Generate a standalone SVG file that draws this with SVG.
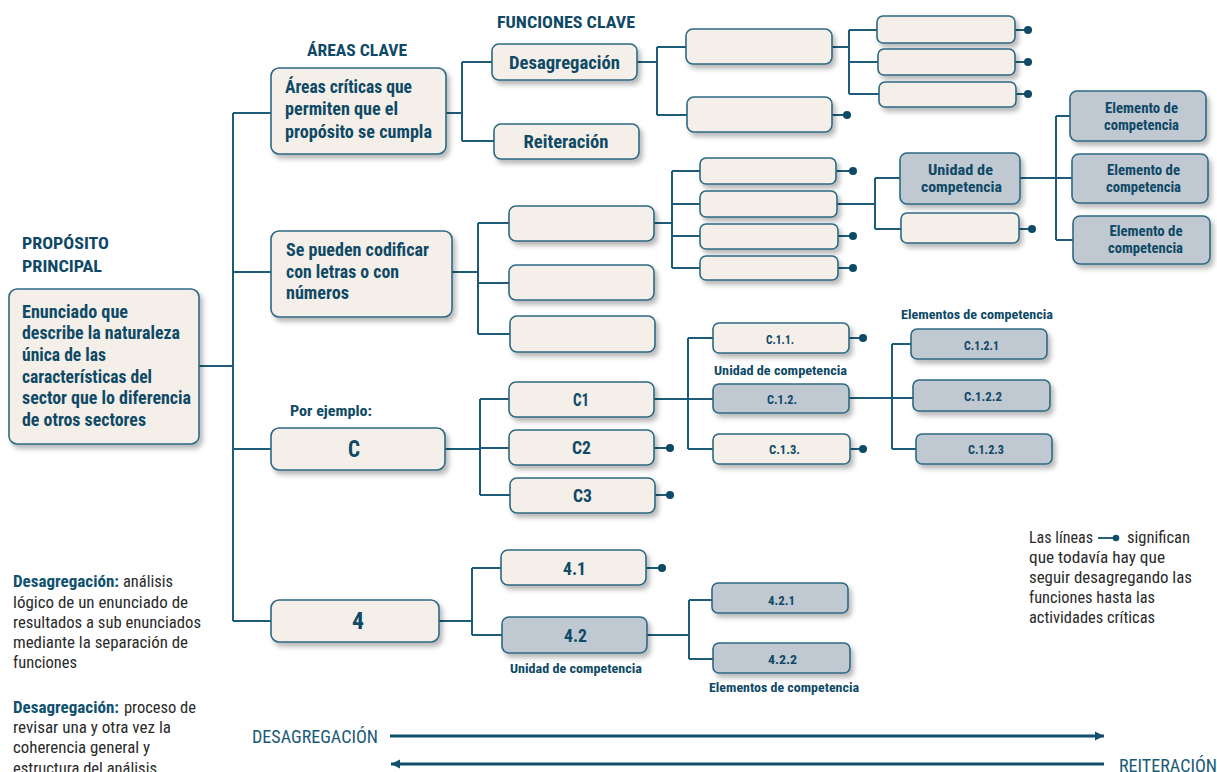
<svg xmlns="http://www.w3.org/2000/svg" width="1217" height="772" viewBox="0 0 1217 772">
<style>
text{font-family:"Liberation Sans Narrow","Roboto Condensed","DejaVu Sans Condensed","Liberation Sans",sans-serif;font-stretch:condensed}
.b{font-weight:bold;fill:#0e4966}
.t17{font-size:17px}
.t18{font-size:18.5px}
.tb{font-size:18px}
.t15{font-size:15.5px}
.t14{font-size:14.5px}
.t13{font-size:13.5px}
.t12{font-size:13px}
.mid{text-anchor:middle}
.n{font-size:16.5px;fill:#2a2a2a}
.nb{font-size:16.5px;font-weight:bold;fill:#0f5270}
.box{fill:#f5efe9;stroke:#2d6983;stroke-width:1.6;filter:url(#sh)}
.gbox{fill:#c0c8d2;stroke:#2d6983;stroke-width:1.6;filter:url(#sh)}
.ln{fill:none;stroke:#1d5c78;stroke-width:2}
.dot{fill:#0d4a66}
.arr{fill:none;stroke:#0f4f6c;stroke-width:3}
</style>
<defs>
<filter id="sh" x="-10%" y="-20%" width="130%" height="170%">
<feDropShadow dx="3" dy="4" stdDeviation="2.5" flood-color="#000" flood-opacity="0.28"/>
</filter>
<marker id="ah" viewBox="0 0 10 10" refX="10" refY="5" markerWidth="3" markerHeight="3.2" orient="auto" markerUnits="strokeWidth">
<path d="M0,0 L10,5 L0,10 z" fill="#0f4f6c"/>
</marker>
</defs>

<!-- headings -->
<g id="headings">
<text class="b t17 mid" x="357" y="56" textLength="100" lengthAdjust="spacingAndGlyphs">ÁREAS CLAVE</text>
<text class="b t17 mid" x="566" y="28" textLength="138" lengthAdjust="spacingAndGlyphs">FUNCIONES CLAVE</text>
<text class="b t17" x="22" y="249" textLength="87" lengthAdjust="spacingAndGlyphs">PROPÓSITO</text>
<text class="b t17" x="22" y="272" textLength="80" lengthAdjust="spacingAndGlyphs">PRINCIPAL</text>
<text class="b t15" x="290" y="416" textLength="82" lengthAdjust="spacingAndGlyphs">Por ejemplo:</text>
</g>

<!-- connectors -->
<g id="connectors">
<path class="ln" d="M199,366H233M233,113V621M233,113H271M233,272H271M233,449H271M233,621H271"/>
<path class="ln" d="M446,113H462M462,62V141M462,62H492M462,141H494"/>
<path class="ln" d="M637,62H657M657,47V115M657,47H686M657,115H687"/>
<path class="ln" d="M832,115H847"/>
<path class="ln" d="M832,47H849M849,30V94M849,30H877M849,62H878M849,94H879"/>
<path class="ln" d="M1015,30H1028M1015,62H1028M1016,94H1028"/>
<path class="ln" d="M452,272H478M478,223V334M478,223H509M478,283H509M478,334H510"/>
<path class="ln" d="M654,223H672M672,171V268M672,171H700M672,204H700M672,236H700M672,268H700"/>
<path class="ln" d="M836,171H853M838,236H853M838,268H853"/>
<path class="ln" d="M837,204H875M875,178V229M875,178H900M875,229H901"/>
<path class="ln" d="M1019,229H1032"/>
<path class="ln" d="M1020,178H1056M1056,116V240M1056,116H1070M1056,178H1072M1056,240H1073"/>
<path class="ln" d="M445,449H480M480,399V495M480,399H509M480,448H509M480,495H510"/>
<path class="ln" d="M654,448H670M655,495H670"/>
<path class="ln" d="M654,399H713M688,338V449M688,338H713M688,449H713"/>
<path class="ln" d="M849,338H863M850,449H863"/>
<path class="ln" d="M849,398H913M892,344V449M892,344H911M892,449H916"/>
<path class="ln" d="M439,621H472M472,568V635M472,568H501M472,635H502"/>
<path class="ln" d="M646,568H662"/>
<path class="ln" d="M647,635H689M689,600V659M689,600H712M689,659H713"/>
<g class="dot">
<circle cx="847" cy="115" r="4"/>
<circle cx="1028" cy="30" r="4"/>
<circle cx="1028" cy="62" r="4"/>
<circle cx="1028" cy="94" r="4"/>
<circle cx="853" cy="171" r="4"/>
<circle cx="853" cy="236" r="4"/>
<circle cx="853" cy="268" r="4"/>
<circle cx="1032" cy="229" r="4"/>
<circle cx="670" cy="448" r="4"/>
<circle cx="670" cy="495" r="4"/>
<circle cx="863" cy="338" r="4"/>
<circle cx="863" cy="449" r="4"/>
<circle cx="662" cy="568" r="4"/>
</g>
</g>

<!-- nodes -->
<g id="n-main">
<rect class="box" x="9" y="289" width="190" height="155" rx="8"/>
<text class="b tb" x="22" y="318" textLength="106" lengthAdjust="spacingAndGlyphs">Enunciado que</text>
<text class="b tb" x="22" y="339" textLength="158" lengthAdjust="spacingAndGlyphs">describe la naturaleza</text>
<text class="b tb" x="22" y="361" textLength="84" lengthAdjust="spacingAndGlyphs">única de las</text>
<text class="b tb" x="22" y="383" textLength="130" lengthAdjust="spacingAndGlyphs">características del</text>
<text class="b tb" x="22" y="404" textLength="169" lengthAdjust="spacingAndGlyphs">sector que lo diferencia</text>
<text class="b tb" x="22" y="426" textLength="124" lengthAdjust="spacingAndGlyphs">de otros sectores</text>
</g>
<g id="n-area1">
<rect class="box" x="271" y="68" width="175" height="86" rx="8"/>
<text class="b tb" x="285" y="93" textLength="127" lengthAdjust="spacingAndGlyphs">Áreas críticas que</text>
<text class="b tb" x="285" y="115" textLength="113" lengthAdjust="spacingAndGlyphs">permiten que el</text>
<text class="b tb" x="285" y="138" textLength="147" lengthAdjust="spacingAndGlyphs">propósito se cumpla</text>
</g>
<g id="n-area2">
<rect class="box" x="271" y="231" width="181" height="86" rx="8"/>
<text class="b tb" x="286" y="256" textLength="143" lengthAdjust="spacingAndGlyphs">Se pueden codificar</text>
<text class="b tb" x="286" y="278" textLength="113" lengthAdjust="spacingAndGlyphs">con letras o con</text>
<text class="b tb" x="286" y="299" textLength="63" lengthAdjust="spacingAndGlyphs">números</text>
</g>
<g id="n-c">
<rect class="box" x="271" y="428" width="174" height="42" rx="8"/>
<text class="b mid" style="font-size:24px" x="354" y="457" textLength="12" lengthAdjust="spacingAndGlyphs">C</text>
</g>
<g id="n-4">
<rect class="box" x="271" y="600" width="168" height="42" rx="8"/>
<text class="b mid" style="font-size:24px" x="358" y="629" textLength="12" lengthAdjust="spacingAndGlyphs">4</text>
</g>
<g id="n-desag">
<rect class="box" x="492" y="44" width="145" height="36" rx="7"/>
<text class="b t18 mid" x="564.5" y="69" textLength="111" lengthAdjust="spacingAndGlyphs">Desagregación</text>
</g>
<g id="n-reit">
<rect class="box" x="494" y="124" width="145" height="35" rx="7"/>
<text class="b t18 mid" x="566" y="148" textLength="85" lengthAdjust="spacingAndGlyphs">Reiteración</text>
</g>
<g id="n-d1"><rect class="box" x="686" y="29" width="146" height="35" rx="7"/></g>
<g id="n-d2"><rect class="box" x="687" y="97" width="145" height="35" rx="7"/></g>
<g id="n-e1"><rect class="box" x="877" y="16" width="138" height="27" rx="6"/></g>
<g id="n-e2"><rect class="box" x="878" y="49" width="137" height="26" rx="6"/></g>
<g id="n-e3"><rect class="box" x="879" y="82" width="137" height="25" rx="6"/></g>
<g id="n-f1"><rect class="box" x="509" y="206" width="145" height="35" rx="7"/></g>
<g id="n-f2"><rect class="box" x="509" y="265" width="145" height="35" rx="7"/></g>
<g id="n-f3"><rect class="box" x="510" y="316" width="145" height="36" rx="7"/></g>
<g id="n-g1"><rect class="box" x="700" y="158" width="136" height="26" rx="6"/></g>
<g id="n-g2"><rect class="box" x="700" y="191" width="137" height="26" rx="6"/></g>
<g id="n-g3"><rect class="box" x="700" y="224" width="138" height="25" rx="6"/></g>
<g id="n-g4"><rect class="box" x="700" y="256" width="138" height="24" rx="6"/></g>
<g id="n-unidad">
<rect class="gbox" x="900" y="153" width="120" height="51" rx="7"/>
<text class="b t15 mid" x="960.5" y="175" textLength="65" lengthAdjust="spacingAndGlyphs">Unidad de</text>
<text class="b t15 mid" x="961.5" y="192" textLength="81" lengthAdjust="spacingAndGlyphs">competencia</text>
</g>
<g id="n-h2"><rect class="box" x="901" y="213" width="118" height="30" rx="6"/></g>
<g id="n-el1">
<rect class="gbox" x="1070" y="91" width="136" height="50" rx="7"/>
<text class="b t14 mid" x="1141.5" y="113" textLength="73" lengthAdjust="spacingAndGlyphs">Elemento de</text>
<text class="b t14 mid" x="1141.5" y="130" textLength="75" lengthAdjust="spacingAndGlyphs">competencia</text>
</g>
<g id="n-el2">
<rect class="gbox" x="1072" y="154" width="136" height="49" rx="7"/>
<text class="b t14 mid" x="1143.5" y="175" textLength="73" lengthAdjust="spacingAndGlyphs">Elemento de</text>
<text class="b t14 mid" x="1143.5" y="192" textLength="75" lengthAdjust="spacingAndGlyphs">competencia</text>
</g>
<g id="n-el3">
<rect class="gbox" x="1073" y="216" width="137" height="48" rx="7"/>
<text class="b t14 mid" x="1146" y="236" textLength="73" lengthAdjust="spacingAndGlyphs">Elemento de</text>
<text class="b t14 mid" x="1145.5" y="253" textLength="75" lengthAdjust="spacingAndGlyphs">competencia</text>
</g>
<g id="n-c1">
<rect class="box" x="509" y="382" width="145" height="35" rx="7"/>
<text class="b t18 mid" x="581" y="406" textLength="16" lengthAdjust="spacingAndGlyphs">C1</text>
</g>
<g id="n-c2">
<rect class="box" x="509" y="430" width="145" height="35" rx="7"/>
<text class="b t18 mid" x="581.5" y="454" textLength="19" lengthAdjust="spacingAndGlyphs">C2</text>
</g>
<g id="n-c3">
<rect class="box" x="510" y="478" width="145" height="35" rx="7"/>
<text class="b t18 mid" x="582.5" y="502" textLength="19" lengthAdjust="spacingAndGlyphs">C3</text>
</g>
<g id="n-c11">
<rect class="box" x="713" y="323" width="136" height="30" rx="6"/>
<text class="b t13 mid" x="780" y="344" textLength="28" lengthAdjust="spacingAndGlyphs">C.1.1.</text>
</g>
<g id="n-c12">
<rect class="gbox" x="713" y="384" width="136" height="29" rx="6"/>
<text class="b t13 mid" x="782" y="404" textLength="30" lengthAdjust="spacingAndGlyphs">C.1.2.</text>
</g>
<g id="n-c13">
<rect class="box" x="713" y="434" width="137" height="30" rx="6"/>
<text class="b t13 mid" x="784.5" y="454" textLength="31" lengthAdjust="spacingAndGlyphs">C.1.3.</text>
</g>
<g id="n-c121">
<rect class="gbox" x="911" y="329" width="136" height="30" rx="6"/>
<text class="b t13 mid" x="981.5" y="350" textLength="35" lengthAdjust="spacingAndGlyphs">C.1.2.1</text>
</g>
<g id="n-c122">
<rect class="gbox" x="913" y="380" width="137" height="31" rx="6"/>
<text class="b t13 mid" x="983" y="401" textLength="38" lengthAdjust="spacingAndGlyphs">C.1.2.2</text>
</g>
<g id="n-c123">
<rect class="gbox" x="916" y="434" width="136" height="30" rx="6"/>
<text class="b t13 mid" x="986" y="454" textLength="36" lengthAdjust="spacingAndGlyphs">C.1.2.3</text>
</g>
<g id="n-41">
<rect class="box" x="501" y="550" width="145" height="35" rx="7"/>
<text class="b t18 mid" x="574.5" y="575" textLength="23" lengthAdjust="spacingAndGlyphs">4.1</text>
</g>
<g id="n-42">
<rect class="gbox" x="502" y="617" width="145" height="36" rx="7"/>
<text class="b t18 mid" x="575.5" y="642" textLength="23" lengthAdjust="spacingAndGlyphs">4.2</text>
</g>
<g id="n-421">
<rect class="gbox" x="712" y="583" width="136" height="30" rx="6"/>
<text class="b t13 mid" x="781.5" y="605" textLength="27" lengthAdjust="spacingAndGlyphs">4.2.1</text>
</g>
<g id="n-422">
<rect class="gbox" x="713" y="643" width="137" height="30" rx="6"/>
<text class="b t13 mid" x="782.5" y="664" textLength="29" lengthAdjust="spacingAndGlyphs">4.2.2</text>
</g>

<!-- small labels -->
<g id="labels">
<text class="b t12 mid" x="780.5" y="375" textLength="133" lengthAdjust="spacingAndGlyphs">Unidad de competencia</text>
<text class="b t12 mid" x="977" y="319" textLength="152" lengthAdjust="spacingAndGlyphs">Elementos de competencia</text>
<text class="b t12 mid" x="576" y="673" textLength="132" lengthAdjust="spacingAndGlyphs">Unidad de competencia</text>
<text class="b t12 mid" x="784" y="692" textLength="150" lengthAdjust="spacingAndGlyphs">Elementos de competencia</text>
</g>

<!-- notes -->
<g id="note-left">
<text class="nb" x="13" y="587" textLength="106" lengthAdjust="spacingAndGlyphs">Desagregación:</text>
<text class="n" x="123" y="587" textLength="50" lengthAdjust="spacingAndGlyphs">análisis</text>
<text class="n" x="13" y="608" textLength="175" lengthAdjust="spacingAndGlyphs">lógico de un enunciado de</text>
<text class="n" x="13" y="628" textLength="188" lengthAdjust="spacingAndGlyphs">resultados a sub enunciados</text>
<text class="n" x="13" y="648" textLength="175" lengthAdjust="spacingAndGlyphs">mediante la separación de</text>
<text class="n" x="13" y="668" textLength="64" lengthAdjust="spacingAndGlyphs">funciones</text>
<text class="nb" x="13" y="713" textLength="106" lengthAdjust="spacingAndGlyphs">Desagregación:</text>
<text class="n" x="124" y="713" textLength="72" lengthAdjust="spacingAndGlyphs">proceso de</text>
<text class="n" x="13" y="733" textLength="158" lengthAdjust="spacingAndGlyphs">revisar una y otra vez la</text>
<text class="n" x="13" y="753" textLength="137" lengthAdjust="spacingAndGlyphs">coherencia general y</text>
<text class="n" x="13" y="774" textLength="144" lengthAdjust="spacingAndGlyphs">estructura del análisis</text>
</g>
<g id="note-right">
<text class="n" x="1029" y="543" textLength="64" lengthAdjust="spacingAndGlyphs">Las líneas</text>
<path d="M1098,538H1114" stroke="#0f4f6c" stroke-width="1.8"/>
<circle cx="1116" cy="538" r="3.3" fill="#0f4f6c"/>
<text class="n" x="1127" y="543" textLength="63" lengthAdjust="spacingAndGlyphs">significan</text>
<text class="n" x="1029" y="563" textLength="136" lengthAdjust="spacingAndGlyphs">que todavía hay que</text>
<text class="n" x="1029" y="583" textLength="163" lengthAdjust="spacingAndGlyphs">seguir desagregando las</text>
<text class="n" x="1029" y="603" textLength="126" lengthAdjust="spacingAndGlyphs">funciones hasta las</text>
<text class="n" x="1029" y="623" textLength="126" lengthAdjust="spacingAndGlyphs">actividades críticas</text>
</g>

<!-- bottom arrows -->
<g id="flow">
<text x="252" y="743" style="font-size:17.5px;fill:#1a5a77" textLength="126" lengthAdjust="spacingAndGlyphs">DESAGREGACIÓN</text>
<path class="arr" d="M390,736H1104" marker-end="url(#ah)"/>
<path class="arr" d="M1104,764H391" marker-end="url(#ah)"/>
<text x="1119" y="772" style="font-size:17.5px;fill:#1a5a77" textLength="98" lengthAdjust="spacingAndGlyphs">REITERACIÓN</text>
</g>
</svg>
